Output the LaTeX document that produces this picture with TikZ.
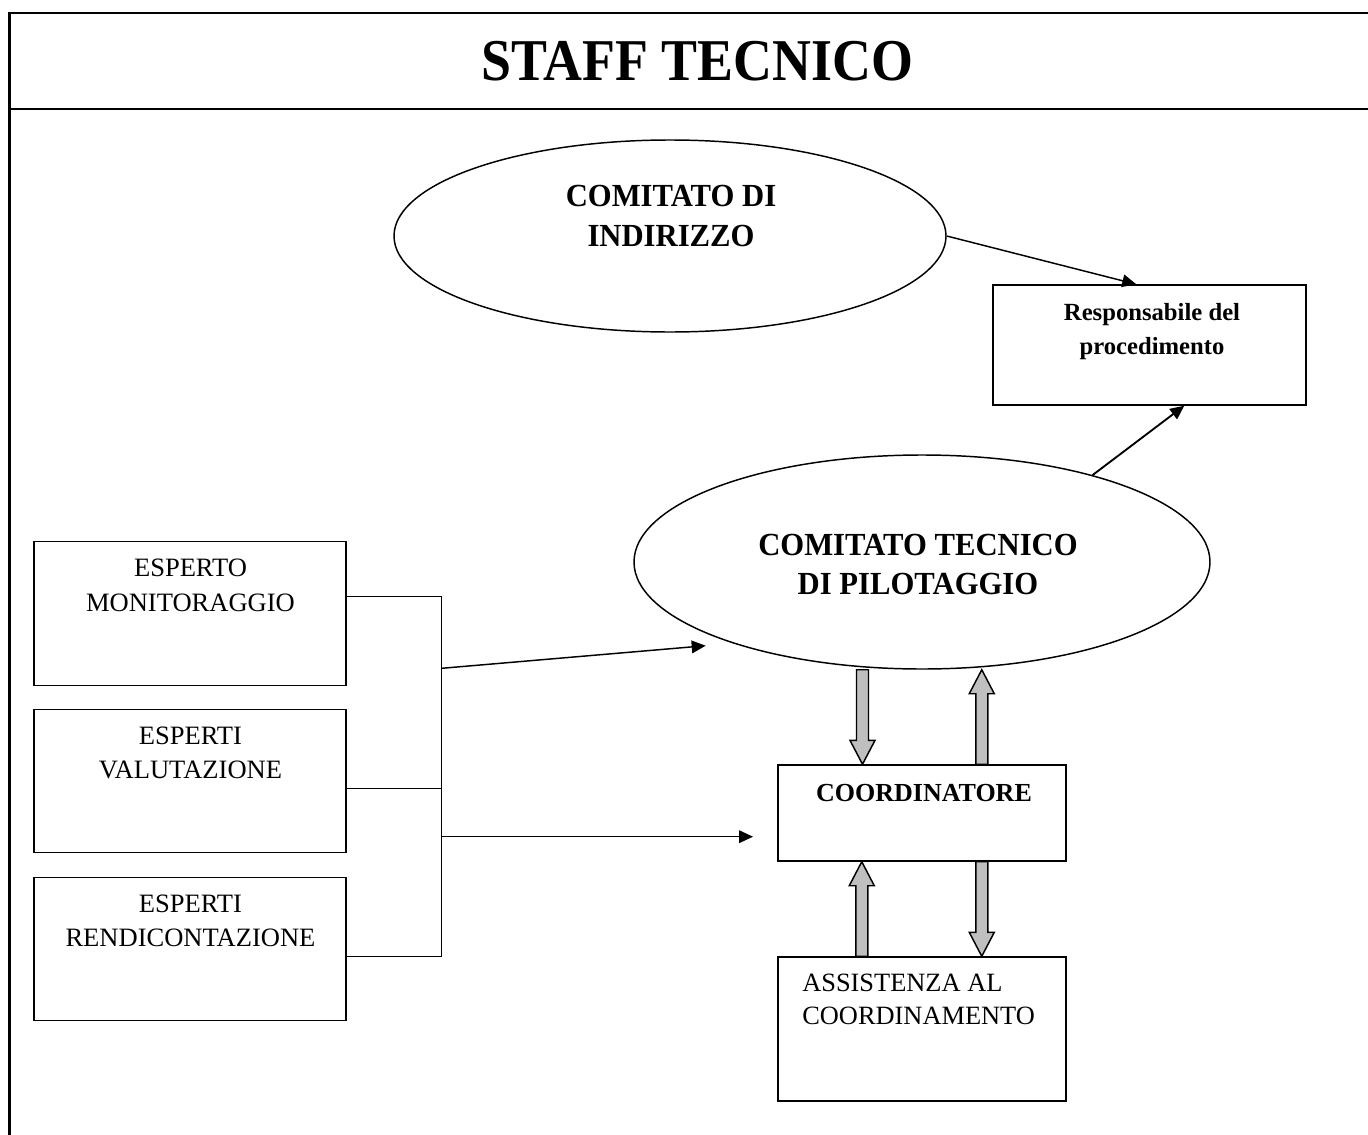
\documentclass[tikz,border=0pt]{standalone}
\usepackage{fontspec}
\setmainfont{Liberation Serif}
\usepackage{graphicx}
\usetikzlibrary{shapes.geometric,arrows.meta,calc}

\def\px{0.75pt}
\newcommand{\ctab}[1]{\begin{tabular}[t]{@{}c@{}}#1\end{tabular}}
\newcommand{\ltab}[1]{\begin{tabular}[t]{@{}l@{}}#1\end{tabular}}
\newcommand{\blkarrow}[2]{%
  \draw[blockarr] let \p1=(#1), \p2=(#2), \n1={ifthenelse(\y2>\y1,1,-1)} in
    (\x1-4.5pt,\y1) -- (\x1+4.5pt,\y1) -- (\x1+4.5pt,\y2-\n1*18pt)
    -- (\x1+9.4pt,\y2-\n1*18pt) -- (\x1,\y2) -- (\x1-9.4pt,\y2-\n1*18pt)
    -- (\x1-4.5pt,\y2-\n1*18pt) -- cycle;}

\begin{document}
\begin{tikzpicture}[x=0.75pt,y=-0.75pt,
  box/.style={draw, line width=1.1pt, inner sep=0pt},
  ell/.style={ellipse, draw, line width=1.1pt, inner sep=0pt},
  frame/.style={line width=1.6pt},
  txt/.style={inner sep=0pt, anchor=base},
  arr/.style={line width=1.1pt, -{Triangle[length=10.5pt,width=9.5pt]}},
  line/.style={line width=1.1pt},
  blockarr/.style={draw, line width=1.1pt, fill=gray!50!white, line join=miter}]
\useasboundingbox (0,0) rectangle (1368,1135);

% frame
\draw[frame] (9.5,1135) -- (9.5,13) -- (1368,13);
\draw[frame] (9.5,109) -- (1368,109);
\node[txt, font=\fontsize{40.4}{48}\bfseries\selectfont] (title) at (697.5,80) {\scalebox{1}[1.1]{STAFF TECNICO}};

% shapes
\node[ell, minimum width=552*\px, minimum height=192*\px] (ind) at (670,236) {};
\node[ell, minimum width=576*\px, minimum height=214*\px] (ctp) at (922,562) {};
\node[box, minimum width=313*\px, minimum height=120*\px] (resp) at (1149.5,345) {};
\node[box, minimum width=312*\px, minimum height=143.5*\px] (e1) at (190,613.5) {};
\node[box, minimum width=312*\px, minimum height=143.5*\px] (e2) at (190,781) {};
\node[box, minimum width=312*\px, minimum height=143.5*\px] (e3) at (190,949) {};
\node[box, minimum width=288*\px, minimum height=96*\px] (coord) at (922,813) {};
\node[box, minimum width=288*\px, minimum height=144*\px] (assist) at (922,1029) {};

% texts
\node[txt, font=\fontsize{23}{28.6}\bfseries\selectfont] (indt) at (671,206)
  {\scalebox{1}[1.05]{\ctab{COMITATO DI\\INDIRIZZO}}};
\node[txt, font=\fontsize{23}{28}\bfseries\selectfont] (ctpt) at (918,555)
  {\scalebox{1}[1.05]{\ctab{COMITATO TECNICO\\DI PILOTAGGIO}}};
\node[txt, font=\fontsize{18.5}{25.5}\bfseries\selectfont] (respt) at (1152,320)
  {\ctab{Responsabile del\\procedimento}};
\node[txt, font=\fontsize{19.9}{26}\selectfont] (e1t) at (190.5,576.7) {\ctab{ESPERTO\\MONITORAGGIO}};
\node[txt, font=\fontsize{19.9}{26}\selectfont] (e2t) at (190.5,744.2) {\ctab{ESPERTI\\VALUTAZIONE}};
\node[txt, font=\fontsize{19.9}{26}\selectfont] (e3t) at (190.5,912.2) {\ctab{ESPERTI\\RENDICONTAZIONE}};
\node[txt, font=\fontsize{19.5}{24}\bfseries\selectfont] (coordt) at (924,801.7) {COORDINATORE};
\node[txt, anchor=base west, font=\fontsize{19.8}{24.5}\selectfont] (assistt) at (802,991.7)
  {\ltab{ASSISTENZA AL\\COORDINAMENTO}};

% bracket
\coordinate (jx) at (441.7,0);
\coordinate (e1a) at ([yshift=-55.3*\px]e1.north east);
\coordinate (e2a) at ([yshift=-80*\px]e2.north east);
\coordinate (e3a) at ([yshift=-80*\px]e3.north east);
\coordinate (j1) at (e1a -| jx);
\coordinate (j2) at (e2a -| jx);
\coordinate (j3) at (e3a -| jx);
\coordinate (jA) at (441.7,668.3);
\coordinate (jB) at (441.7,836.7);
\coordinate (tipA) at (705.7,645.7);
\coordinate (tipB) at (753,836.7);
\draw[line] (e1a) -- (j1) -- (j3) -- (e3a);
\draw[line] (e2a) -- (j2);
\draw[arr] (jA) -- (tipA);
\draw[arr] (jB) -- (tipB);

% arrows to responsabile
\draw[arr] (ind.east) -- ([xshift=144*\px]resp.north west);
\draw[arr, line width=1.4pt] (ctp.27.1) -- ([xshift=192*\px]resp.south west);

% block arrows
\blkarrow{[xshift=-59.5*\px]ctp.south}{[xshift=84.5*\px]coord.north west}
\blkarrow{[xshift=204.5*\px]coord.north west}{[xshift=60.5*\px]ctp.south}
\blkarrow{[xshift=84.5*\px]assist.north west}{[xshift=84.5*\px]coord.south west}
\blkarrow{[xshift=204.5*\px]coord.south west}{[xshift=204.5*\px]assist.north west}
\end{tikzpicture}
\end{document}
